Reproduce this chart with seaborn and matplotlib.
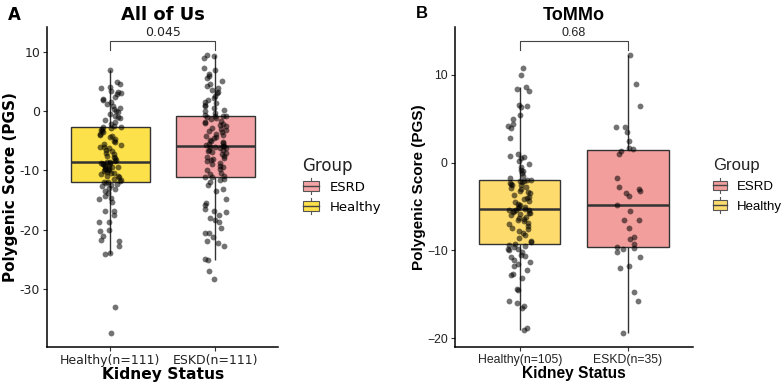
import numpy as np
import pandas as pd
import matplotlib
matplotlib.use("Agg")
import matplotlib.pyplot as plt
import seaborn as sns
from matplotlib.patches import Rectangle
from matplotlib.lines import Line2D
from matplotlib.legend_handler import HandlerBase

# values
aou_healthy = [-37.4, -33.0, -24.2, -24.0, -22.8, -22.0, -21.8, -21.0, -20.2, -20.0,
               -18.8, -18.7, -17.5, -16.9, -16.8, -15.4, -14.8, -14.7, -14.4, -13.9,
               -13.5, -13.2, -12.9, -12.7, -12.5, -12.3, -12.1, -12.0, -12.0,
               -11.8, -11.6, -11.4, -11.2, -11.0, -10.9, -10.7, -10.5, -10.4, -10.2,
               -10.1, -10.0, -9.9, -9.8, -9.7, -9.6, -9.5, -9.4, -9.3, -9.2, -9.1,
               -9.0, -8.9, -8.8, -8.7, -8.65, -8.6,
               -8.4, -8.2, -8.0, -7.8, -7.5, -7.3, -7.0, -6.8, -6.5, -6.3, -6.1, -6.0,
               -5.8, -5.5, -5.2, -5.0, -4.7, -4.4, -4.2, -4.0, -3.8, -3.6, -3.4, -3.2,
               -3.0, -2.8, -2.7, -2.7,
               -2.5, -2.2, -1.9, -1.5, -1.2, -1.0, -0.8, -0.5, -0.2, 0.0, 0.3, 0.6,
               0.9, 1.2, 1.5, 1.8, 2.0, 2.4, 2.8, 3.0, 3.2, 3.4, 3.9, 4.1, 4.5, 4.9, 7.0]
aou_eskd = [-28.3, -27.0, -25.2, -25.0, -22.8, -22.2, -22.0, -21.2, -20.6, -20.5,
            -19.7, -18.8, -18.4, -18.0, -17.5, -17.0, -16.8, -16.5, -15.9, -15.5,
            -14.9, -13.5, -13.2, -12.5, -12.0, -11.7, -11.4, -11.2, -11.2,
            -11.0, -10.7, -10.4, -10.0, -9.8, -9.5, -9.3, -9.0, -8.8, -8.5, -8.3,
            -8.1, -7.9, -7.7, -7.5, -7.3, -7.1, -6.9, -6.8, -6.6, -6.5, -6.3, -6.2,
            -6.1, -6.0, -5.95, -5.9,
            -5.8, -5.6, -5.4, -5.2, -5.0, -4.8, -4.6, -4.4, -4.2, -4.0, -3.8, -3.6,
            -3.4, -3.2, -3.0, -2.8, -2.6, -2.4, -2.2, -2.0, -1.8, -1.6, -1.4, -1.2,
            -1.0, -0.9, -0.8, -0.8,
            -0.6, -0.3, 0.0, 0.2, 0.5, 0.8, 1.0, 1.3, 1.5, 1.9, 2.2, 2.6, 3.0, 3.3,
            3.6, 3.9, 4.2, 4.5, 5.0, 5.6, 6.0, 6.3, 7.0, 7.2, 9.0, 9.3, 9.4]
tommo_healthy = [-19.1, -18.8, -16.6, -16.3, -16.0, -15.8, -14.5, -14.4, -13.1, -12.8,
                 -12.7, -12.2, -11.8, -11.5, -11.3, -11.1, -10.8, -10.6, -10.5, -10.2,
                 -10.0, -9.9, -9.8, -9.6, -9.5, -9.4, -9.28,
                 -9.1, -8.9, -8.6, -8.3, -8.0, -7.8, -7.6, -7.4, -7.2, -7.0, -6.9, -6.7,
                 -6.6, -6.4, -6.3, -6.2, -6.0, -5.9, -5.8, -5.7, -5.6, -5.5, -5.45, -5.4,
                 -5.38, -5.34,
                 -5.2, -5.1, -5.0, -4.8, -4.7, -4.5, -4.4, -4.2, -4.0, -3.9, -3.7, -3.5,
                 -3.4, -3.2, -3.0, -2.9, -2.8, -2.6, -2.5, -2.4, -2.3, -2.2, -2.1, -2.05,
                 -2.0, -1.93,
                 -1.8, -1.5, -1.2, -1.0, -0.8, -0.5, -0.2, 0.2, 0.5, 0.6, 0.8, 1.0, 2.8,
                 3.9, 4.2, 4.4, 5.0, 5.4, 6.3, 6.5, 6.6, 8.2, 8.4, 8.6, 10.0, 10.8]
tommo_eskd = [-19.4, -15.8, -14.8, -12.0, -11.8, -10.8, -10.2, -9.8, -9.7, -9.62,
              -9.3, -8.7, -8.5, -7.5, -6.6, -6.5, -5.5, -4.85,
              -3.8, -3.5, -3.2, -3.0, -2.8, -1.8, 1.0, 1.3, 1.5,
              1.7, 2.5, 3.5, 4.0, 4.1, 6.5, 9.0, 12.2]

aou_labels = ["Healthy(n=111)", "ESKD(n=111)"]
tommo_labels = ["Healthy(n=105)", "ESKD(n=35)"]
group_names = ["ESRD", "Healthy"]
p_values = ["0.045", "0.68"]


def make_df(healthy, eskd, labels):
    return pd.DataFrame({
        "score": healthy + eskd,
        "status": [labels[0]] * len(healthy) + [labels[1]] * len(eskd),
        "Group": ["Healthy"] * len(healthy) + ["ESRD"] * len(eskd),
    })


class BoxKey(HandlerBase):
    def create_artists(self, legend, orig, xd, yd, w, h, fs, trans):
        c = orig.get_facecolor()
        cx = xd + w / 2
        arts = [Line2D([cx, cx], [yd - 0.3 * h, yd + 1.3 * h], color="#555555", lw=0.8),
                Rectangle((xd, yd), w, h, facecolor=c, edgecolor="#555555", lw=0.8),
                Line2D([xd, xd + w], [yd + h / 2, yd + h / 2], color="#444444", lw=1.0)]
        for a in arts:
            a.set_transform(trans)
        return arts


fig = plt.figure(figsize=(7.84, 3.85), dpi=100)
panels = [
    dict(df=make_df(aou_healthy, aou_eskd, aou_labels), labels=aou_labels,
         rect=[0.060, 0.099, 0.295, 0.831], ylim=(-39.8, 14.2), yticks=[-30, -20, -10, 0, 10],
         pal={"Healthy": "#FDE14A", "ESRD": "#F4A4A6"}, font="DejaVu Sans", tick_fs=9.0,
         title="All of Us", letter="A", p=p_values[0], by=(10.3, 11.9),
         leg_x=0.386, key_len=1.25, title_x=0.385),
    dict(df=make_df(tommo_healthy, tommo_eskd, tommo_labels), labels=tommo_labels,
         rect=[0.580, 0.099, 0.304, 0.831], ylim=(-21.0, 15.45), yticks=[-20, -10, 0, 10],
         pal={"Healthy": "#FDDB6D", "ESRD": "#F29E9C"}, font="Liberation Sans", tick_fs=8.8,
         title="ToMMo", letter="B", p=p_values[1], by=(12.8, 13.8),
         leg_x=0.910, key_len=1.0, title_x=0.909),
]

np.random.seed(3)
for pn in panels:
    ax = fig.add_axes(pn["rect"])
    f = pn["font"]
    sns.boxplot(data=pn["df"], x="status", y="score", hue="Group", order=pn["labels"],
                hue_order=group_names, palette=pn["pal"], width=0.75, showfliers=False,
                whis=1.5, linewidth=1.0, linecolor="#333333", saturation=1,
                medianprops=dict(linewidth=1.8, color="#333333"),
                capprops=dict(linewidth=0), legend=False, ax=ax)
    sns.stripplot(data=pn["df"], x="status", y="score", order=pn["labels"], color="black",
                  alpha=0.55, size=4.2, jitter=0.11, linewidth=0, ax=ax)
    ax.set_xlim(-0.6, 1.6)
    ax.set_ylim(*pn["ylim"])
    ax.set_yticks(pn["yticks"])
    minus = "-" if f == "DejaVu Sans" else "\u2212"
    ax.set_yticklabels([str(t).replace("-", minus) for t in pn["yticks"]], fontfamily=f)
    ax.set_xticks([0, 1])
    ax.set_xticklabels(pn["labels"], fontfamily=f)
    ax.tick_params(labelsize=pn["tick_fs"], colors="#333333", length=3, width=0.8, pad=2)
    ax.tick_params(labelcolor="#222222")
    for s in ["top", "right"]:
        ax.spines[s].set_visible(False)
    for s in ["left", "bottom"]:
        ax.spines[s].set_linewidth(1.1)
    ax.set_xlabel("Kidney Status", fontsize=11.2, fontweight="bold", fontfamily=f, labelpad=0)
    ax.set_ylabel("Polygenic Score (PGS)", fontsize=11, fontweight="bold", fontfamily=f, labelpad=1)
    ax.set_title(pn["title"], fontsize=13, fontweight="bold", fontfamily=f, pad=5)
    # significance bracket
    lo, hi = pn["by"]
    ax.plot([0, 0, 1, 1], [lo, hi, hi, lo], color="#444444", lw=0.8, clip_on=False)
    ax.text(0.5, hi + 0.3, pn["p"], ha="center", va="bottom", fontsize=9,
            fontfamily=f, color="#222222")
    fig.text(pn["rect"][0] - 0.05, 0.985, pn["letter"], fontsize=12, fontweight="bold",
             fontfamily=f, va="top")
    # legend
    fig.text(pn["title_x"], 1 - 166 / 385, "Group", fontsize=12, fontfamily=f,
             va="center", ha="left", color="#222222")
    handles = [Rectangle((0, 0), 1, 1, facecolor=pn["pal"][g]) for g in group_names]
    fig.legend(handles, group_names, loc="upper left",
               bbox_to_anchor=(pn["leg_x"], 1 - 181 / 385),
               frameon=False, handler_map={Rectangle: BoxKey()},
               prop=dict(family=f, size=9.5), handlelength=pn["key_len"], handleheight=0.75,
               handletextpad=0.8, labelspacing=0.55, borderpad=0, borderaxespad=0)

fig.savefig("out.png", dpi=100)
